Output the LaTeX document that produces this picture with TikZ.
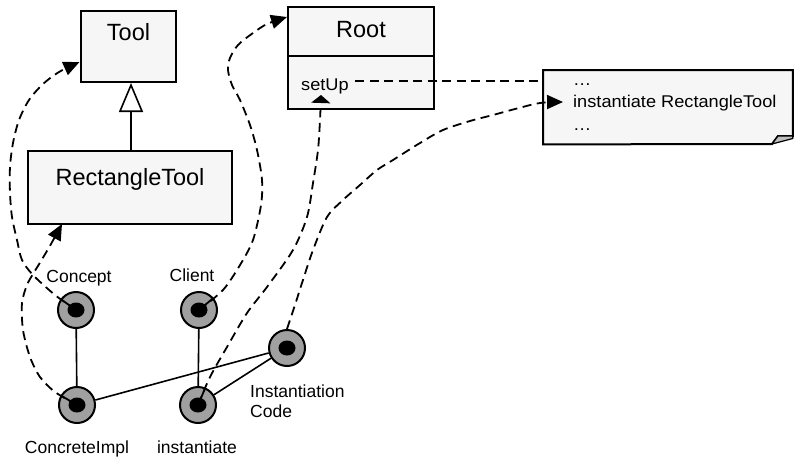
\documentclass[tikz,border=0pt]{standalone}
\usepackage{fontspec}
\setmainfont{Liberation Sans}
\newfontfamily\smallface[FakeStretch=1.07]{Liberation Sans}
\usetikzlibrary{arrows.meta,calc}
\definecolor{boxgray}{RGB}{246,246,246}
\definecolor{ringgray}{RGB}{160,160,160}
\definecolor{foldgray}{RGB}{190,190,190}
\newcommand\titlesize{\fontsize{23.5}{28}\selectfont}
\newcommand\labelsize{\fontsize{17.5}{20}\selectfont}
\newcommand\notesize{\smallface\fontsize{17}{20}\selectfont}
\begin{document}
\begin{tikzpicture}[x=1pt,y=-1pt,
  classbox/.style={draw, line width=2pt, fill=boxgray, inner sep=0pt},
  role/.style={circle, draw, line width=2pt, fill=ringgray, minimum size=36pt, inner sep=0pt},
  link/.style={line width=1.6pt},
  dep/.style={line width=1.8pt, dash pattern=on 9pt off 5.5pt},
  deptip/.style={-{Triangle[length=16pt,width=14pt]}},
  title/.style={font=\titlesize, anchor=base, inner sep=0pt},
  lbl/.style={font=\labelsize, anchor=base, inner sep=0pt},
  notetext/.style={font=\notesize, anchor=base west, inner sep=0pt},
]
\useasboundingbox (0,0) rectangle (794,458);

% classes
\node[classbox, anchor=north west, minimum width=95pt, minimum height=71pt] (tool) at (80,10) {};
\node[title] (tooltitle) at (tool.north |- 0,40) {Tool};
\node[classbox, anchor=north west, minimum width=204pt, minimum height=73pt] (rect) at (27,150) {};
\node[title] (recttitle) at (rect.north |- 0,185) {RectangleTool};
\draw[link, -{Triangle[open, fill=white, length=29pt, width=24pt]}]
  (rect.north -| 131,0) -- (tool.south -| 131,0);

\node[classbox, anchor=north west, minimum width=146pt, minimum height=102pt] (root) at (287,6) {};
\draw[line width=2pt] (root.west |- 0,56) -- (root.east |- 0,56);
\node[title] (roottitle) at (root.north |- 0,37) {Root};
\node[notetext] (setup) at (301,90) {setUp};

% note with folded corner
\node[anchor=north west, minimum width=250pt, minimum height=74pt, inner sep=0pt] (note) at (543,70) {};
\draw[line width=2pt, fill=boxgray, line join=miter]
  (note.north west) -- (792.8,70) -- (792.8,136) -- (778,136) -- (772,144) -- (note.south west) -- cycle;
\draw[line width=1.2pt, fill=foldgray] (772,144) -- (778,136) -- (792.8,136) -- (792.8,138.5) -- cycle;
\node[notetext] (notea) at (573,85) {…};
\node[notetext] (noteb) at (573,107) {instantiate RectangleTool};
\node[notetext] (notec) at (573,130) {…};

% roles
\node[role] (concept) at (76,310) {};
\node[role] (client) at (199,310) {};
\node[role] (concreteimpl) at (77,405) {};
\node[role] (instantiate) at (198,405) {};
\node[role] (instcode) at (287,348) {};
\foreach \r in {concept,client,concreteimpl,instantiate,instcode}
  \fill (\r.center) ellipse [x radius=8.5pt, y radius=7.5pt];

\draw[link] (concept) -- (concreteimpl);
\draw[link] (client) -- (instantiate);
\draw[link] (concreteimpl) -- (instcode);
\draw[link] (instantiate) -- (instcode);

\node[lbl] (conceptlbl) at (79,282) {Concept};
\node[lbl] (clientlbl) at (192,281) {Client};
\node[lbl] (concretelbl) at (77,453) {ConcreteImpl};
\node[lbl] (instlbl) at (197,453) {instantiate};
\node[lbl, anchor=base west] (instcodelbl) at (250,397) {Instantiation};
\node[lbl, anchor=base west] (instcodelbl2) at (250,417) {Code};

% arrow end points
\coordinate (toolin) at (79.5,62);
\coordinate (rectin) at (62,224);
\coordinate (rootin) at (287,17);
\coordinate (setupin) at (321,95);
\coordinate (notein) at (563,102);
\coordinate (setupout) at (355,81);

% dependencies
\draw[line width=1.8pt] (concept.center) -- ($(concept.center)!18pt!(55,295)$);
\draw[dep, deptip] plot[smooth] coordinates {(concept.center) (55,295) (33,275) (22,260) (17,240)
  (12,217) (10,193) (10,167) (13,143) (19,120) (29,100) (43,84) (59,72) (toolin)};

\draw[line width=1.8pt] (concreteimpl.center) -- ($(concreteimpl.center)!18pt!(55,392)$);
\draw[dep, deptip] plot[smooth] coordinates {(concreteimpl.center) (55,392) (40,377) (30,357)
  (23,330) (22,303) (27,285) (33,274) (41,261) (51,244) (rectin)};

\draw[line width=1.8pt] (client.center) -- ($(client.center)!18pt!(223,290)$);
\draw[dep, deptip] plot[smooth] coordinates {(client.center) (223,290) (240,265) (253,240)
  (261,205) (262,180) (257,150) (250,125) (240,100) (232,85) (228,70) (230,58) (238,45)
  (253,33) (267,24) (rootin)};

\draw[line width=1.8pt] (instantiate.center) -- ($(instantiate.center)!18pt!(210,377)$);
\draw[dep, -{Triangle[length=8pt,width=19pt]}] plot[smooth] coordinates {(instantiate.center)
  (210,377) (227,347) (247,313) (267,287) (293,250) (307,217) (313,183) (318,150) (320,120) (setupin)};

\draw[dep, deptip] plot[smooth] coordinates {(instcode.north) (295,305) (302,283) (313,250)
  (327,217) (343,200) (360,185) (377,170) (393,160) (420,143) (443,130) (470,121) (493,115)
  (515,109) (540,103) (notein)};

\draw[dep] (setupout) -- (note.west |- setupout);
\end{tikzpicture}
\end{document}
